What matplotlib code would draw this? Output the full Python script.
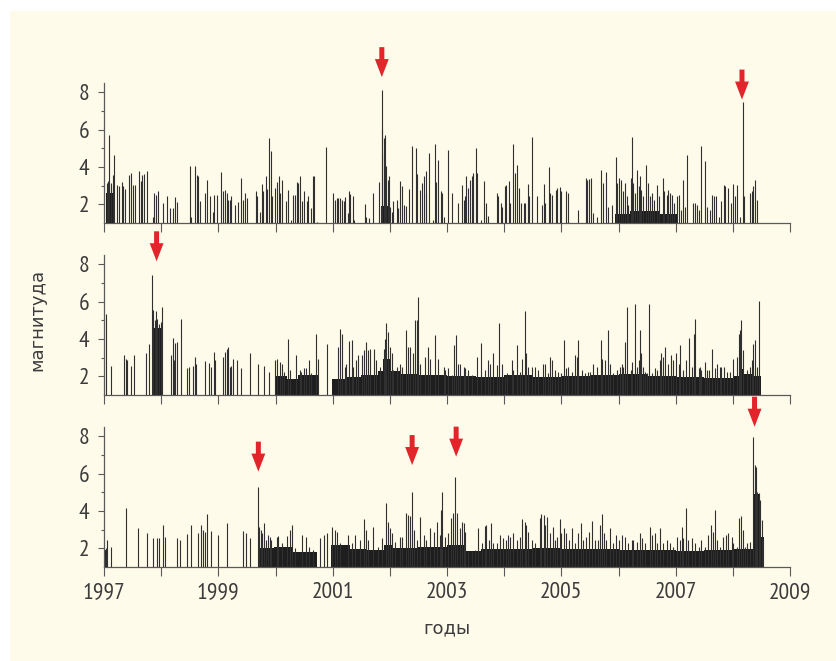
import numpy as np
import matplotlib
matplotlib.use("Agg")
import matplotlib.pyplot as plt
import matplotlib.font_manager as fm
from matplotlib.patches import Rectangle

plt.rcParams['font.family'] = ['DejaVu Sans']

# ---------------- data (years since 1997, magnitude) ----------------
T0 = 1997

p1_t = [0.05,0.07,0.09,0.12,0.13,0.16,0.17,0.23,0.26,0.31,
        0.34,0.37,0.43,0.47,0.50,0.54,0.61,0.64,0.67,0.70,
        0.76,0.85,0.88,0.91,0.95,1.03,1.10,1.15,1.20,1.24,
        1.27,1.50,1.53,1.59,1.62,1.65,1.68,1.76,1.80,1.85,
        1.90,1.92,1.97,2.05,2.08,2.12,2.15,2.17,2.20,2.23,
        2.29,2.35,2.40,2.43,2.47,2.51,2.66,2.68,2.73,2.76,
        2.79,2.83,2.86,2.89,2.92,2.94,2.99,3.02,3.06,3.08,
        3.11,3.18,3.21,3.27,3.31,3.34,3.37,3.39,3.43,3.47,
        3.50,3.55,3.57,3.62,3.65,3.68,3.72,3.88,4.00,4.04,
        4.07,4.10,4.13,4.16,4.19,4.22,4.26,4.29,4.31,4.35,
        4.38,4.57,4.59,4.64,4.71,4.81,4.84,4.86,4.87,4.89,
        4.90,4.92,4.93,4.96,4.99,5.00,5.03,5.06,5.12,5.15,
        5.18,5.21,5.25,5.28,5.34,5.39,5.46,5.48,5.52,5.56,
        5.60,5.63,5.64,5.69,5.76,5.79,5.81,5.85,5.90,5.92,
        5.95,6.02,6.08,6.20,6.26,6.29,6.31,6.34,6.37,6.40,
        6.43,6.46,6.51,6.52,6.59,6.64,6.68,6.72,6.87,6.90,
        6.94,6.97,7.02,7.04,7.08,7.11,7.16,7.19,7.22,7.26,
        7.30,7.34,7.37,7.41,7.44,7.48,7.58,7.66,7.69,7.71,
        7.79,7.81,7.84,7.90,7.93,7.97,8.00,8.08,8.11,8.30,
        8.43,8.45,8.49,8.52,8.56,8.62,8.69,8.73,8.78,8.82,
        8.88,8.95,8.98,9.01,9.04,9.07,9.11,9.14,9.17,9.21,
        9.24,9.26,9.29,9.32,9.35,9.38,9.40,9.43,9.48,9.52,
        9.55,9.59,9.62,9.67,9.70,9.77,9.80,9.84,9.87,9.90,
        9.93,9.97,10.02,10.05,10.09,10.13,10.16,10.19,10.30,10.33,
        10.37,10.40,10.45,10.51,10.54,10.60,10.64,10.67,10.71,10.75,
        10.80,10.84,10.87,10.92,10.96,11.01,11.04,11.08,11.12,11.17,
        11.20,11.30,11.33,11.36,11.39,11.42]
p1_m = [3.14,3.23,5.70,2.96,3.14,3.59,4.63,3.01,2.96,3.19,
        2.96,2.83,3.59,3.68,3.01,3.01,3.80,3.23,3.59,3.62,
        3.80,1.34,2.60,2.51,2.69,2.06,2.42,1.79,1.79,2.38,
        2.11,4.03,1.34,4.03,3.59,3.50,2.15,2.60,3.32,2.42,
        1.61,2.51,2.51,3.71,2.69,2.78,2.60,2.24,2.24,2.42,
        1.97,2.10,3.41,2.24,2.60,2.33,2.69,2.42,1.61,3.08,
        2.69,3.50,2.81,5.52,4.84,2.42,2.87,3.17,3.50,2.60,
        3.32,2.15,2.78,1.16,2.51,2.51,3.17,3.14,3.50,2.15,
        2.69,2.15,2.42,1.79,3.50,3.50,1.07,5.08,2.60,2.24,
        2.33,2.36,2.33,2.24,2.15,2.38,1.52,2.69,2.56,2.42,
        1.16,2.01,1.34,1.25,2.60,3.19,1.88,8.13,6.01,4.75,
        5.56,5.70,4.03,3.32,3.50,1.88,1.61,2.18,2.24,1.79,
        3.23,2.96,1.97,1.93,2.83,5.11,5.02,3.64,2.78,3.14,
        3.50,3.80,2.60,4.75,1.16,5.20,3.17,4.39,2.69,2.60,
        1.34,4.93,2.60,2.06,3.01,2.24,2.47,3.50,2.87,3.32,
        3.50,3.68,5.02,3.68,1.16,3.23,2.06,1.38,2.60,2.42,
        2.06,1.88,2.96,3.05,3.23,2.06,5.20,3.68,4.09,2.87,
        2.06,2.06,2.06,3.10,2.42,5.61,2.42,1.97,3.08,2.06,
        4.00,2.60,2.51,2.78,2.87,2.90,2.69,2.69,2.60,1.70,
        3.41,3.32,3.35,3.41,1.52,1.34,3.82,3.14,3.71,1.88,
        1.97,4.54,3.14,3.41,3.32,2.69,3.14,2.42,1.97,3.41,
        5.61,3.14,2.60,3.85,2.96,3.50,2.78,2.42,4.12,3.14,
        2.42,2.60,2.24,3.01,2.42,3.41,2.69,2.51,2.78,2.60,
        2.51,2.06,2.42,2.51,1.70,3.32,1.88,4.63,2.06,2.06,
        1.97,1.70,5.11,4.30,1.88,1.70,2.51,2.42,2.42,1.34,
        2.15,3.01,2.96,2.87,2.06,3.08,2.42,3.05,1.34,7.48,
        2.42,2.60,2.69,2.96,3.32,2.24]

p2_t = [0.03,0.13,0.35,0.38,0.41,0.47,0.53,0.73,0.79,0.84,
        0.86,0.89,0.91,0.93,0.96,0.99,1.02,1.18,1.20,1.23,
        1.25,1.28,1.34,1.45,1.49,1.55,1.59,1.61,1.77,1.83,
        1.87,1.92,1.94,2.09,2.12,2.15,2.17,2.20,2.23,2.26,
        2.32,2.40,2.55,2.70,2.80,2.89,2.99,3.02,3.08,3.11,
        3.15,3.22,3.25,3.36,3.42,3.44,3.49,3.53,3.59,3.62,
        3.71,3.75,3.90,4.09,4.13,4.16,4.22,4.24,4.29,4.33,
        4.36,4.41,4.44,4.51,4.55,4.58,4.62,4.66,4.73,4.76,
        4.83,4.89,4.92,4.94,4.97,5.00,5.03,5.06,5.12,5.18,
        5.21,5.29,5.32,5.35,5.41,5.44,5.47,5.49,5.53,5.62,
        5.67,5.70,5.79,5.85,5.94,5.97,6.02,6.08,6.13,6.16,
        6.20,6.23,6.29,6.31,6.37,6.43,6.53,6.59,6.66,6.72,
        6.75,6.81,6.87,6.91,6.96,7.02,7.05,7.13,7.16,7.23,
        7.28,7.32,7.36,7.39,7.42,7.48,7.54,7.60,7.68,7.71,
        7.77,7.81,7.84,7.89,7.95,8.00,8.05,8.09,8.12,8.18,
        8.24,8.27,8.30,8.36,8.41,8.47,8.50,8.56,8.62,8.69,
        8.72,8.76,8.82,8.85,8.91,8.97,9.02,9.06,9.08,9.11,
        9.14,9.21,9.24,9.28,9.32,9.35,9.38,9.40,9.43,9.46,
        9.49,9.54,9.58,9.64,9.67,9.72,9.75,9.78,9.82,9.87,
        9.91,9.95,10.01,10.05,10.08,10.13,10.18,10.23,10.28,10.32,
        10.34,10.40,10.42,10.45,10.51,10.54,10.59,10.64,10.69,10.73,
        10.78,10.80,10.84,10.89,10.95,11.01,11.07,11.10,11.12,11.15,
        11.18,11.24,11.30,11.33,11.36,11.39,11.42,11.46]
p2_m = [5.34,2.54,3.13,2.90,2.86,2.54,3.13,3.22,3.75,7.44,
        5.56,4.99,5.49,5.08,4.81,4.90,5.73,3.13,4.07,2.86,
        3.78,3.84,5.04,2.45,2.51,2.56,3.04,2.68,2.81,2.72,
        2.51,3.30,2.86,3.04,3.30,3.48,3.57,2.51,2.54,2.95,
        2.86,2.47,3.22,2.68,2.54,2.24,2.86,2.90,2.77,2.65,
        2.24,3.98,2.33,3.13,2.33,2.24,2.42,2.42,2.86,2.15,
        4.28,2.90,3.75,3.57,4.55,4.28,2.51,2.68,3.89,3.96,
        2.51,2.86,3.13,3.13,3.39,3.84,3.39,3.48,3.48,2.86,
        2.51,3.48,4.01,4.85,4.37,3.57,3.22,2.33,2.51,2.68,
        2.51,4.46,3.57,3.57,3.22,4.99,4.99,6.23,2.68,3.04,
        3.57,2.95,4.19,2.95,2.51,2.33,2.42,2.06,3.66,4.19,
        2.68,2.68,2.51,2.42,2.33,2.06,3.04,3.78,2.33,2.86,
        2.68,3.22,2.60,4.87,2.68,1.98,2.15,2.86,2.33,3.66,
        2.24,2.95,5.49,3.22,2.51,2.51,2.51,2.33,2.68,2.68,
        2.15,3.04,2.86,2.33,2.24,2.15,3.96,2.42,2.51,2.24,
        3.13,3.04,3.96,2.33,2.15,2.24,2.24,2.68,2.51,3.96,
        2.95,2.86,4.46,2.68,2.15,2.33,2.51,2.68,2.51,3.84,
        5.73,2.33,2.77,5.84,2.51,2.86,4.46,3.22,2.51,2.24,
        2.15,5.84,2.15,2.42,2.33,2.86,3.22,3.04,3.57,2.68,
        3.13,2.86,3.22,2.68,3.66,2.33,2.86,4.07,2.51,4.28,
        5.04,2.42,2.51,2.33,2.77,2.33,2.33,3.48,2.42,2.65,
        2.51,2.51,2.51,2.24,2.24,2.95,3.04,4.28,4.46,4.99,
        3.39,2.33,2.51,2.86,3.75,3.93,2.51,6.05]

p3_t = [0.02,0.03,0.05,0.13,0.38,0.60,0.76,0.86,0.92,0.96,
        1.03,1.07,1.27,1.33,1.46,1.52,1.65,1.69,1.73,1.77,
        1.81,1.88,2.00,2.16,2.43,2.48,2.55,2.69,2.71,2.74,
        2.77,2.80,2.83,2.87,2.90,2.93,3.02,3.05,3.11,3.20,
        3.25,3.29,3.34,3.46,3.53,3.59,3.66,3.78,3.84,3.90,
        3.98,4.04,4.07,4.13,4.26,4.33,4.39,4.47,4.55,4.58,
        4.62,4.71,4.80,4.87,4.94,4.97,5.00,5.03,5.09,5.18,
        5.22,5.28,5.31,5.35,5.39,5.43,5.47,5.53,5.59,5.64,
        5.71,5.77,5.82,5.87,5.89,5.92,5.96,6.02,6.07,6.10,
        6.14,6.17,6.22,6.26,6.29,6.32,6.37,6.43,6.49,6.55,
        6.61,6.66,6.69,6.74,6.77,6.81,6.87,6.93,6.98,7.03,
        7.07,7.10,7.15,7.22,7.28,7.32,7.37,7.39,7.42,7.48,
        7.54,7.62,7.64,7.69,7.71,7.75,7.80,7.85,7.89,7.92,
        7.97,8.00,8.04,8.09,8.14,8.18,8.24,8.30,8.34,8.38,
        8.43,8.49,8.54,8.59,8.65,8.68,8.71,8.75,8.79,8.85,
        8.91,8.95,9.01,9.06,9.12,9.17,9.23,9.26,9.32,9.38,
        9.41,9.46,9.55,9.59,9.64,9.67,9.72,9.78,9.84,9.90,
        9.96,10.02,10.08,10.11,10.13,10.18,10.22,10.28,10.34,10.40,
        10.45,10.51,10.57,10.61,10.65,10.69,10.72,10.77,10.83,10.88,
        10.92,10.98,11.01,11.07,11.11,11.14,11.17,11.21,11.24,11.30,
        11.36,11.38,11.40,11.42,11.45,11.48,11.51,11.53]
p3_m = [1.55,2.00,2.44,2.05,4.14,3.07,2.84,2.53,2.53,2.53,
        3.25,2.62,2.53,2.44,2.75,3.25,2.84,3.25,2.98,2.89,
        3.83,2.94,2.71,3.34,2.94,2.84,2.53,5.30,3.16,2.98,
        2.80,3.37,2.44,2.71,2.62,2.44,2.62,2.66,2.27,2.66,
        2.98,3.25,2.00,2.71,2.62,2.09,1.91,2.53,2.71,2.84,
        3.16,2.98,2.89,2.27,2.71,2.27,2.71,2.44,3.55,2.98,
        2.44,3.16,2.09,2.53,4.44,3.42,3.07,2.80,2.35,2.62,
        2.62,3.91,3.78,3.73,5.03,2.98,2.44,3.66,2.71,2.44,
        3.07,2.89,3.42,2.71,4.05,5.03,2.62,2.80,3.60,3.87,
        5.83,3.87,3.07,3.42,3.34,2.89,1.82,1.82,1.91,3.07,
        2.27,3.19,3.25,2.44,3.37,2.27,2.27,2.71,2.53,2.44,
        2.71,2.62,2.84,2.44,2.62,3.57,3.42,3.25,2.89,2.44,
        2.27,3.60,3.83,3.78,3.25,3.69,2.80,3.16,2.44,2.62,
        3.57,2.80,3.07,2.80,2.44,3.07,2.27,2.80,3.34,2.44,
        2.62,2.89,3.46,2.44,2.44,3.25,3.83,2.80,2.44,3.07,
        2.27,2.71,2.44,2.71,2.62,2.27,2.44,2.44,2.35,2.80,
        2.53,2.27,3.16,2.71,2.80,2.27,3.07,2.27,2.44,2.27,
        2.09,2.62,2.44,3.16,2.53,4.14,2.44,2.53,2.27,2.09,
        2.44,2.09,2.71,3.25,2.89,4.05,2.44,2.09,2.62,2.71,
        2.80,2.62,2.27,2.09,3.60,3.73,2.98,2.09,2.27,2.35,
        7.93,6.45,6.36,5.03,4.94,4.58,3.51,2.44]

# dense background of small events: (start, end, typical upper level)
p1_dense_start = [0.03, 4.85, 8.94, 9.20, 9.70]
p1_dense_end   = [0.18, 4.97, 9.20, 9.70, 10.02]
p1_dense_level = [2.6, 1.9, 1.5, 1.65, 1.5]

p2_dense_start = [0.84, 2.99, 3.20, 3.40, 3.98, 4.25, 4.50, 4.80, 4.88, 5.02, 5.20, 5.50, 6.00,
                  6.50, 7.00, 7.50, 8.00, 8.50, 9.00, 9.50, 10.00, 10.50, 11.00, 11.10, 11.20, 11.35]
p2_dense_end   = [1.03, 3.20, 3.40, 3.76, 4.25, 4.50, 4.80, 4.88, 5.02, 5.20, 5.50, 6.00, 6.50,
                  7.00, 7.50, 8.00, 8.50, 9.00, 9.50, 10.00, 10.50, 11.00, 11.10, 11.20, 11.35, 11.49]
p2_dense_level = [4.6, 2.0, 1.85, 2.05, 1.85, 1.95, 2.05, 2.3, 2.9, 2.3, 2.1, 2.05, 2.0,
                  1.95, 2.05, 1.95, 2.0, 2.05, 2.1, 2.0, 1.95, 1.9, 2.0, 2.4, 2.1, 2.0]

p3_dense_start = [0.02, 2.70, 2.98, 3.30, 3.97, 4.30, 4.60, 4.90, 5.05, 5.50, 6.00, 6.30, 6.60,
                  7.00, 7.50, 8.00, 8.50, 9.00, 9.50, 10.00, 10.50, 11.00, 11.36, 11.46, 11.50]
p3_dense_end   = [0.04, 2.98, 3.30, 3.72, 4.30, 4.60, 4.90, 5.05, 5.50, 6.00, 6.30, 6.60, 7.00,
                  7.50, 8.00, 8.50, 9.00, 9.50, 10.00, 10.50, 11.00, 11.36, 11.46, 11.50, 11.54]
p3_dense_level = [1.9, 2.0, 2.05, 1.8, 2.15, 1.95, 1.9, 2.2, 2.0, 2.05, 2.15, 1.85, 1.95,
                  1.95, 2.0, 1.95, 1.95, 1.9, 1.9, 1.85, 1.9, 1.95, 4.9, 4.4, 2.6]

# red arrows: (years since 1997, magnitude of the arrow tip)
p1_arrow_t = [4.86, 11.16]
p1_arrow_m = [8.8, 7.6]
p2_arrow_t = [0.92]
p2_arrow_m = [8.15]
p3_arrow_t = [2.70, 5.39, 6.16, 11.38]
p3_arrow_m = [6.1, 6.45, 6.9, 8.5]

year_ticks = list(range(1997, 2010))
year_labels = [str(y) if (y - 1997) % 2 == 0 else '' for y in year_ticks]

# ---------------- fonts: prefer a condensed sans for tick labels ----------------
cond_file = None
for key in ('narrow', 'condensed'):
    for f in fm.fontManager.ttflist:
        n = f.fname.lower().replace('\\', '/').split('/')[-1]
        if key in n and 'sans' in n and not any(b in n for b in ('bold', 'italic', 'oblique', 'mono', 'light', 'semi', 'extra', 'black', 'thin', 'medium')):
            cond_file = f.fname
            break
    if cond_file:
        break
if cond_file:
    tick_fp = fm.FontProperties(fname=cond_file, size=17)
else:
    tick_fp = fm.FontProperties(family='Liberation Sans', size=13.5)

# ---------------- figure ----------------
W, H = 836, 661
fig = plt.figure(figsize=(W / 100, H / 100), dpi=100)
fig.patch.set_facecolor('white')
fig.patches.append(Rectangle((10 / W, 0), 1 - 10 / W, 1 - 11 / H, transform=fig.transFigure,
                             facecolor='#FFFBEA', edgecolor='none', zorder=-10))

TXT = '#3c3c3c'
AX = '#5a5a5a'
RED = '#E2242B'

left = 104 / W
width = 686 / W
panels = [
    (p1_t, p1_m, p1_dense_start, p1_dense_end, p1_dense_level, p1_arrow_t, p1_arrow_m, 223),
    (p2_t, p2_m, p2_dense_start, p2_dense_end, p2_dense_level, p2_arrow_t, p2_arrow_m, 395),
    (p3_t, p3_m, p3_dense_start, p3_dense_end, p3_dense_level, p3_arrow_t, p3_arrow_m, 567),
]
for i, (tt, mm, ds, de, dl, at, am, base_px) in enumerate(panels):
    h_px = 7.5 * 18.7
    ax = fig.add_axes([left, 1 - base_px / H, width, h_px / H])
    ax.set_facecolor('none')
    ax.set_xlim(1997, 2009)
    ax.set_ylim(1, 8.5)
    # dense swarm of small events
    for s, e, lv in zip(ds, de, dl):
        ax.fill_between([T0 + s, T0 + e], 1, lv, color='#1e1e1e', lw=0, zorder=2)
    # individual events
    ax.vlines(T0 + np.asarray(tt), 1, np.asarray(mm), color='#303030', lw=0.8, zorder=3)
    # arrows
    for x, m in zip(at, am):
        ax.annotate('', xy=(T0 + x, m), xytext=(0, 30), textcoords='offset pixels',
                    xycoords='data', annotation_clip=False,
                    arrowprops=dict(arrowstyle='simple,head_length=1.3,head_width=1.0,tail_width=0.36',
                                    color=RED, shrinkA=0, shrinkB=0, mutation_scale=10, lw=0))
    for sp in ['top', 'right']:
        ax.spines[sp].set_visible(False)
    for sp in ['left', 'bottom']:
        ax.spines[sp].set_color(AX)
        ax.spines[sp].set_linewidth(0.9)
    ax.set_yticks([2, 4, 6, 8])
    ax.set_yticks([3, 5, 7], minor=True)
    ax.set_xticks(year_ticks)
    ax.tick_params(axis='y', which='major', direction='out', length=4.5, width=0.8,
                   color=AX, labelcolor=TXT, pad=6)
    ax.tick_params(axis='y', which='minor', direction='out', length=2.5, width=0.8, color=AX)
    ax.tick_params(axis='x', which='major', direction='out', length=6.5, width=0.8,
                   color=AX, labelcolor=TXT, pad=4)
    if i == 2:
        ax.set_xticklabels(year_labels)
    else:
        ax.set_xticklabels([])
    for lab in ax.get_yticklabels() + ax.get_xticklabels():
        lab.set_fontproperties(tick_fp)

fig.text(37 / W, 1 - 320 / H, 'магнитуда', rotation=90, ha='center', va='center',
         fontsize=13, color=TXT, family=['DejaVu Sans'])
fig.text(447 / W, 1 - 628 / H, 'годы', ha='center', va='center',
         fontsize=13, color=TXT, family=['DejaVu Sans'])

fig.savefig('out.png', dpi=100, facecolor=fig.get_facecolor())
